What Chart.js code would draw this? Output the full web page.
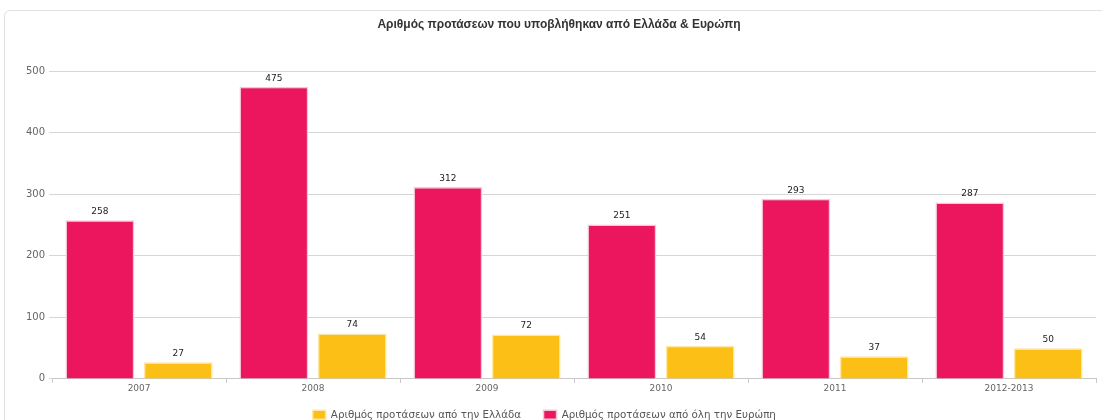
<!DOCTYPE html>
<html>
<head>
<meta charset="utf-8">
<script src="https://cdn.jsdelivr.net/npm/chart.js@4"></script>
<style>
  html, body { margin: 0; padding: 0; background: #fff; overflow: hidden; width: 1102px; height: 420px; }
  #frame { position: absolute; left: 4px; top: 10px; width: 1110px; height: 430px;
           border: 1px solid #e2e2e2; border-radius: 6px; }
  #wrap { position: absolute; left: 0; top: 0; width: 1102px; height: 430px; }
</style>
</head>
<body>
<div id="frame"></div>
<div id="wrap"><canvas id="chart" width="1102" height="430"></canvas></div>
<script>
// δεδομένα
const years = ['2007', '2008', '2009', '2010', '2011', '2012-2013'];
const europeValues = [258, 475, 312, 251, 293, 287];
const greeceValues = [27, 74, 72, 54, 37, 50];

// τιμές πάνω από τις μπάρες
const valueLabels = {
    id: 'valueLabels',
    afterDatasetsDraw(chart) {
        const ctx = chart.ctx;
        ctx.save();
        ctx.font = '9px "DejaVu Sans", sans-serif';
        ctx.fillStyle = '#222';
        ctx.textAlign = 'center';
        ctx.textBaseline = 'bottom';
        chart.data.datasets.forEach((ds, i) => {
            chart.getDatasetMeta(i).data.forEach((bar, j) => {
                ctx.fillText(ds.data[j], bar.x, bar.y - 4);
            });
        });
        ctx.restore();
    }
};

new Chart(document.getElementById('chart').getContext('2d'), {
    type: 'bar',
    data: {
        labels: years,
        datasets: [{
            label: 'Αριθμός προτάσεων από όλη την Ευρώπη',
            data: europeValues,
            backgroundColor: '#eb165e',
            borderColor: '#f7c6d6',
            borderWidth: 1.5
        }, {
            label: 'Αριθμός προτάσεων από την Ελλάδα',
            data: greeceValues,
            backgroundColor: '#fbbf16',
            borderColor: '#fde7a8',
            borderWidth: 1.5
        }]
    },
    options: {
        responsive: false,
        animation: false,
        layout: { padding: { left: 22, right: 6, top: 4, bottom: 0 } },
        datasets: { bar: { categoryPercentage: 0.9, barPercentage: 0.88 } },
        plugins: {
            title: {
                display: true,
                text: 'Αριθμός προτάσεων που υποβλήθηκαν από Ελλάδα & Ευρώπη',
                color: '#333',
                font: { family: '"Liberation Sans Narrow", "Liberation Sans", sans-serif', size: 12, weight: 'bold' },
                padding: { top: 13, bottom: 40 }
            },
            legend: {
                position: 'bottom',
                reverse: true,
                labels: {
                    boxWidth: 13,
                    boxHeight: 9,
                    color: '#555',
                    font: { family: '"DejaVu Sans", sans-serif', size: 10.3 },
                    padding: 16,
                    // κενά στο τέλος για να ταιριάξει η απόσταση και η θέση του υπομνήματος
                    generateLabels(chart) {
                        const items = Chart.defaults.plugins.legend.labels.generateLabels(chart);
                        items.forEach(it => {
                            it.text += it.datasetIndex === 1 ? '  ' : '         ';
                        });
                        return items;
                    }
                }
            },
            tooltip: { enabled: false }
        },
        scales: {
            x: {
                grid: { display: true, drawOnChartArea: false, offset: true, tickLength: 4, color: '#c8c8c8' },
                border: { color: '#c8c8c8' },
                ticks: { color: '#666', font: { family: '"DejaVu Sans", sans-serif', size: 9 }, padding: 0 }
            },
            y: {
                min: 0,
                max: 500,
                ticks: { stepSize: 100, color: '#666', font: { family: '"DejaVu Sans", sans-serif', size: 10 }, padding: 4 },
                grid: { color: '#d6d6d6', tickLength: 3 },
                border: { display: false }
            }
        }
    },
    plugins: [valueLabels]
});
</script>
</body>
</html>
